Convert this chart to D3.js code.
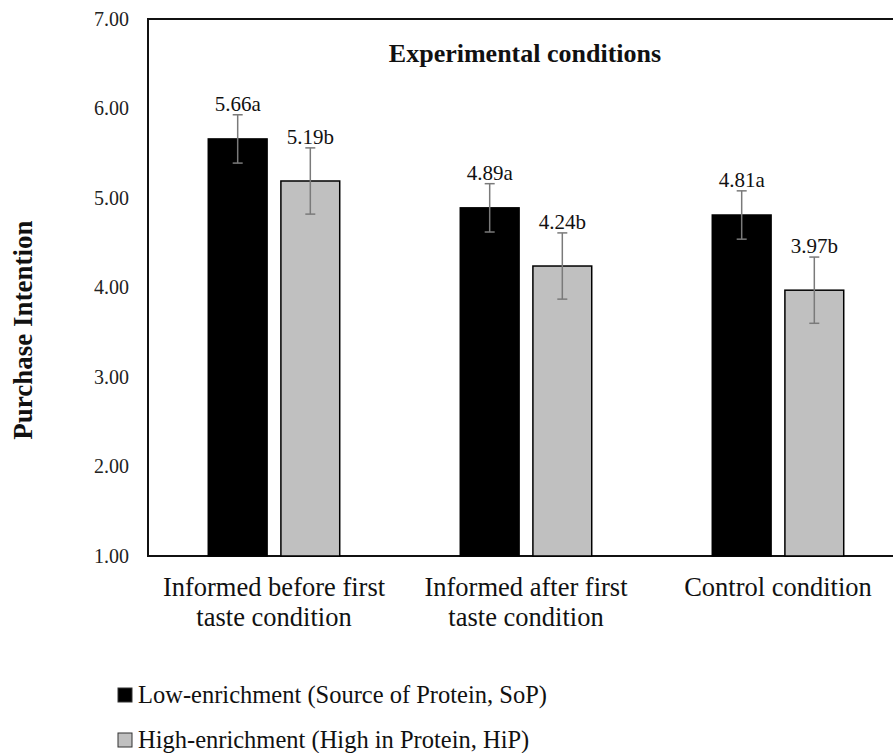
<!DOCTYPE html>
<html>
<head>
<meta charset="utf-8">
<script src="https://cdn.jsdelivr.net/npm/d3@7"></script>
<style>
  body { margin: 0; background: #fff; }
  svg { display: block; }
  svg text { font-family: "Liberation Serif", "Times New Roman", "DejaVu Serif", serif; }
</style>
</head>
<body>
<svg id="chart" width="893" height="753"></svg>
<script>
const conditions = [
    ["Informed before first", "taste condition"],
    ["Informed after first", "taste condition"],
    ["Control condition"]
];
const seriesNames = [
    "Low-enrichment (Source of Protein, SoP)",
    "High-enrichment (High in Protein, HiP)"
];
const lowValues = [5.66, 4.89, 4.81];
const highValues = [5.19, 4.24, 3.97];
const lowErrors = [0.27, 0.27, 0.27];
const highErrors = [0.37, 0.37, 0.37];
const lowLetters = ["a", "a", "a"];
const highLetters = ["b", "b", "b"];
const yTicks = [1, 2, 3, 4, 5, 6, 7];

const fills = ["#000000", "#c0c0c0"];

const svg = d3.select("#chart");

// plot frame runs off the right edge, like the original
const plotLeft = 148, plotTop = 19, plotBottom = 556, bandW = 252;

const x = d3.scaleBand()
    .domain(d3.range(conditions.length))
    .range([plotLeft, plotLeft + bandW * conditions.length]);

const xInner = d3.scaleBand()
    .domain([0, 1])
    .range([0, bandW])
    .paddingInner(0.19)
    .paddingOuter(0.83);

const y = d3.scaleLinear().domain([1, 7]).range([plotBottom, plotTop]);

// y axis tick labels
const yAxis = d3.axisLeft(y)
    .tickValues(yTicks)
    .tickFormat(d3.format(".2f"))
    .tickSize(0)
    .tickPadding(19);

svg.append("g")
    .attr("transform", `translate(${plotLeft},0)`)
    .call(yAxis)
    .call(g => g.select(".domain").remove())
    .call(g => g.selectAll("text")
        .attr("font-size", 20)
        .attr("fill", "#222"));

// frame
svg.append("path")
    .attr("d", `M${plotLeft + 800},${plotTop}H${plotLeft}V${plotBottom}H${plotLeft + 800}`)
    .attr("fill", "none")
    .attr("stroke", "#111")
    .attr("stroke-width", 2);

const series = [
    { values: lowValues, errors: lowErrors, letters: lowLetters },
    { values: highValues, errors: highErrors, letters: highLetters }
];

series.forEach((s, si) => {
    const g = svg.append("g");
    const data = s.values.map((v, i) => ({ i, v, e: s.errors[i], l: s.letters[i] }));
    const cx = d => x(d.i) + xInner(si) + xInner.bandwidth() / 2;

    g.selectAll("rect")
        .data(data)
        .enter().append("rect")
        .attr("x", d => x(d.i) + xInner(si))
        .attr("y", d => y(d.v))
        .attr("width", xInner.bandwidth())
        .attr("height", d => y(1) - y(d.v))
        .attr("fill", fills[si])
        .attr("stroke", "#000")
        .attr("stroke-width", 1.5);

    // error bars
    const err = g.selectAll(".err")
        .data(data)
        .enter().append("g")
        .attr("class", "err")
        .attr("stroke", "#7a7a7a")
        .attr("stroke-width", 1.5);
    err.append("line")
        .attr("x1", cx).attr("x2", cx)
        .attr("y1", d => y(d.v + d.e)).attr("y2", d => y(d.v - d.e));
    err.append("line")
        .attr("x1", d => cx(d) - 5).attr("x2", d => cx(d) + 5)
        .attr("y1", d => y(d.v + d.e)).attr("y2", d => y(d.v + d.e));
    err.append("line")
        .attr("x1", d => cx(d) - 5).attr("x2", d => cx(d) + 5)
        .attr("y1", d => y(d.v - d.e)).attr("y2", d => y(d.v - d.e));

    g.selectAll(".lbl")
        .data(data)
        .enter().append("text")
        .attr("class", "lbl")
        .attr("x", cx)
        .attr("y", d => y(d.v + d.e) - 4)
        .attr("text-anchor", "middle")
        .attr("font-size", 21)
        .attr("fill", "#111")
        .text(d => d3.format(".2f")(d.v) + d.l);
});

// chart title inside the frame
svg.append("text")
    .attr("x", 525)
    .attr("y", 62)
    .attr("text-anchor", "middle")
    .attr("font-size", 26)
    .attr("font-weight", "bold")
    .attr("fill", "#111")
    .text("Experimental conditions");

// category labels
const catLabels = svg.selectAll(".cat")
    .data(conditions)
    .enter().append("text")
    .attr("class", "cat")
    .attr("text-anchor", "middle")
    .attr("font-size", 26.5)
    .attr("fill", "#111");
catLabels.selectAll("tspan")
    .data((d, i) => d.map(line => ({ line, i })))
    .enter().append("tspan")
    .attr("x", d => x(d.i) + bandW / 2)
    .attr("y", (d, j) => 596 + j * 30)
    .text(d => d.line);

// y axis title
svg.append("text")
    .attr("transform", "translate(32,330) rotate(-90)")
    .attr("text-anchor", "middle")
    .attr("font-size", 27)
    .attr("font-weight", "bold")
    .attr("fill", "#111")
    .text("Purchase Intention");

// legend
const legend = svg.selectAll(".legend")
    .data(seriesNames)
    .enter().append("g")
    .attr("class", "legend")
    .attr("transform", (d, i) => `translate(118,${688 + i * 45})`);
legend.append("rect")
    .attr("width", 14)
    .attr("height", 14)
    .attr("fill", (d, i) => fills[i])
    .attr("stroke", "#333")
    .attr("stroke-width", 1);
legend.append("text")
    .attr("x", 20)
    .attr("y", 15)
    .attr("font-size", 24.5)
    .attr("fill", "#111")
    .text(d => d);
</script>
</body>
</html>
